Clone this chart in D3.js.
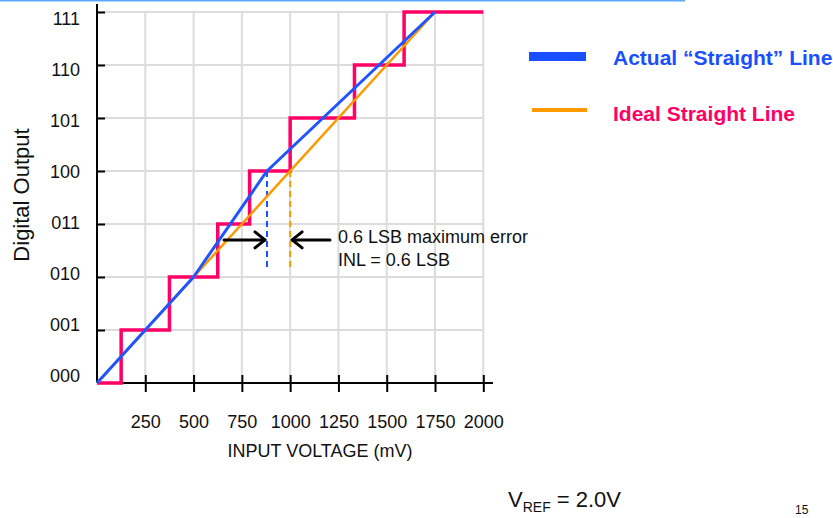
<!DOCTYPE html>
<html>
<head>
<meta charset="utf-8">
<script src="https://cdn.jsdelivr.net/npm/d3@7"></script>
<style>
  body { margin: 0; background: #fff; }
  svg { display: block; font-family: "Liberation Sans", Arial, sans-serif; }
</style>
</head>
<body>
<script>
// data
var codes = ["000", "001", "010", "011", "100", "101", "110", "111"];
var xTicks = [250, 500, 750, 1000, 1250, 1500, 1750, 2000];
var stepEdges = [0, 125, 375, 625, 790, 1000, 1333, 1590, 2000]; // mV where output code changes
var idealLine = [[0, 0], [1750, 7]];
var actualLine = [[0, 0], [500, 2], [880, 4], [1750, 7]];
var errorFrom = 880, errorTo = 1000, errorLevel = 2.7, dashBottom = 2.17;

var width = 833, height = 518;

var svg = d3.select("body").append("svg")
    .attr("width", width)
    .attr("height", height);

var x = d3.scaleLinear().domain([0, 2000]).range([97, 483.3]);
var y = d3.scaleLinear().domain([0, 7]).range([383, 12]);
var yLab = d3.scaleLinear().domain([0, 7]).range([376, 19]);

// top slide rule
svg.append("line")
    .attr("x1", 0).attr("x2", 685)
    .attr("y1", 0.5).attr("y2", 0.5)
    .attr("stroke", "#5aa9ff").attr("stroke-width", 2);

// grid
var grid = svg.append("g").attr("stroke", "#dcdcdc").attr("stroke-width", 2);
grid.selectAll(".v").data(xTicks).enter().append("line")
    .attr("x1", function(d) { return x(d); })
    .attr("x2", function(d) { return x(d); })
    .attr("y1", y(7)).attr("y2", y(0));
grid.selectAll(".h").data(d3.range(1, 8)).enter().append("line")
    .attr("x1", x(0)).attr("x2", x(2000))
    .attr("y1", function(d) { return y(d); })
    .attr("y2", function(d) { return y(d); });

// axes
var gx = svg.append("g")
    .attr("transform", "translate(0," + y(0) + ")")
    .call(d3.axisBottom(x).tickValues(xTicks).tickFormat(d3.format("d"))
        .tickSize(9).tickSizeOuter(0).tickPadding(23));
gx.select(".domain").remove();
gx.selectAll(".tick line").attr("y1", -8).attr("stroke-width", 2);
gx.selectAll(".tick text")
    .attr("font-size", "18px")
    .attr("font-family", "Liberation Sans, Arial, sans-serif")
    .attr("fill", "#111");

var gy = svg.append("g")
    .attr("transform", "translate(" + x(0) + ",0)")
    .call(d3.axisLeft(y).tickValues(d3.range(1, 8)).tickSize(8).tickSizeOuter(0).tickFormat(""));
gy.select(".domain").remove();
gy.selectAll(".tick line").attr("x2", 8).attr("stroke-width", 2);

svg.append("line")
    .attr("x1", x(0)).attr("x2", 493)
    .attr("y1", y(0)).attr("y2", y(0))
    .attr("stroke", "#000").attr("stroke-width", 2);
svg.append("line")
    .attr("x1", x(0)).attr("x2", x(0))
    .attr("y1", 4).attr("y2", y(0))
    .attr("stroke", "#000").attr("stroke-width", 2);

svg.append("g").selectAll("text").data(codes).enter().append("text")
    .attr("x", 80)
    .attr("y", function(d, i) { return yLab(i); })
    .attr("dy", "0.35em")
    .attr("text-anchor", "end")
    .attr("font-size", "18px")
    .attr("fill", "#111")
    .text(function(d) { return d; });

svg.append("text")
    .attr("x", 320).attr("y", 457)
    .attr("text-anchor", "middle")
    .attr("font-size", "18px")
    .attr("fill", "#111")
    .text("INPUT VOLTAGE (mV)");

svg.append("text")
    .attr("transform", "translate(29,195) rotate(-90)")
    .attr("text-anchor", "middle")
    .attr("font-size", "22px")
    .attr("fill", "#111")
    .text("Digital Output");

// red staircase
var stepPts = [];
for (var i = 0; i < codes.length; i++) {
    stepPts.push([stepEdges[i], i]);
    stepPts.push([stepEdges[i + 1], i]);
}
var line = d3.line()
    .x(function(d) { return x(d[0]); })
    .y(function(d) { return y(d[1]); });

svg.append("path")
    .attr("d", line(stepPts))
    .attr("fill", "none")
    .attr("stroke", "#ff0066")
    .attr("stroke-width", 3.5)
    .attr("stroke-linejoin", "miter");

// dashed markers
svg.append("line")
    .attr("x1", x(errorFrom)).attr("x2", x(errorFrom))
    .attr("y1", y(4)).attr("y2", y(dashBottom))
    .attr("stroke", "#1a4fff").attr("stroke-width", 2)
    .attr("stroke-dasharray", "6,4");
svg.append("line")
    .attr("x1", x(errorTo)).attr("x2", x(errorTo))
    .attr("y1", y(4)).attr("y2", y(dashBottom))
    .attr("stroke", "#ff9900").attr("stroke-width", 2)
    .attr("stroke-dasharray", "6,4");

// ideal + actual lines
svg.append("path")
    .attr("d", line(idealLine))
    .attr("fill", "none")
    .attr("stroke", "#ff9900")
    .attr("stroke-width", 2.5);
svg.append("path")
    .attr("d", line(actualLine))
    .attr("fill", "none")
    .attr("stroke", "#1f55ff")
    .attr("stroke-width", 3)
    .attr("stroke-linejoin", "round");

// arrows
var ay = y(errorLevel);
var arr = svg.append("g").attr("stroke", "#000").attr("stroke-width", 3)
    .attr("fill", "none").attr("stroke-linecap", "round").attr("stroke-linejoin", "round");
arr.append("line").attr("x1", 224).attr("x2", x(errorFrom) - 2).attr("y1", ay).attr("y2", ay);
arr.append("path").attr("d", "M" + (x(errorFrom) - 12) + "," + (ay - 8) + "L" + (x(errorFrom) - 2) + "," + ay + "L" + (x(errorFrom) - 12) + "," + (ay + 8));
arr.append("line").attr("x1", 330).attr("x2", x(errorTo) + 2).attr("y1", ay).attr("y2", ay);
arr.append("path").attr("d", "M" + (x(errorTo) + 12) + "," + (ay - 8) + "L" + (x(errorTo) + 2) + "," + ay + "L" + (x(errorTo) + 12) + "," + (ay + 8));

svg.append("text")
    .attr("x", 338).attr("y", 243)
    .attr("font-size", "18px").attr("fill", "#111")
    .text("0.6 LSB maximum error");
svg.append("text")
    .attr("x", 338).attr("y", 266)
    .attr("font-size", "18px").attr("fill", "#111")
    .text("INL = 0.6 LSB");

// legend
svg.append("rect")
    .attr("x", 529).attr("y", 52)
    .attr("width", 57).attr("height", 9)
    .attr("fill", "#1a4fff");
svg.append("text")
    .attr("x", 613).attr("y", 65)
    .attr("font-size", "21px").attr("font-weight", "bold")
    .attr("fill", "#1a4fff")
    .text("Actual \u201cStraight\u201d Line");
svg.append("rect")
    .attr("x", 532).attr("y", 108)
    .attr("width", 55).attr("height", 4)
    .attr("fill", "#ff9900");
svg.append("text")
    .attr("x", 613).attr("y", 121)
    .attr("font-size", "21px").attr("font-weight", "bold")
    .attr("fill", "#ff0066")
    .text("Ideal Straight Line");

// footer
var vref = svg.append("text").attr("x", 508).attr("y", 507).attr("fill", "#111").attr("font-size", "22px");
vref.append("tspan").text("V");
vref.append("tspan").attr("font-size", "14px").attr("dy", 5).text("REF");
vref.append("tspan").attr("dy", -5).text(" = 2.0V");

svg.append("text")
    .attr("x", 795).attr("y", 514)
    .attr("font-size", "12px").attr("fill", "#111")
    .text("15");
</script>
</body>
</html>
